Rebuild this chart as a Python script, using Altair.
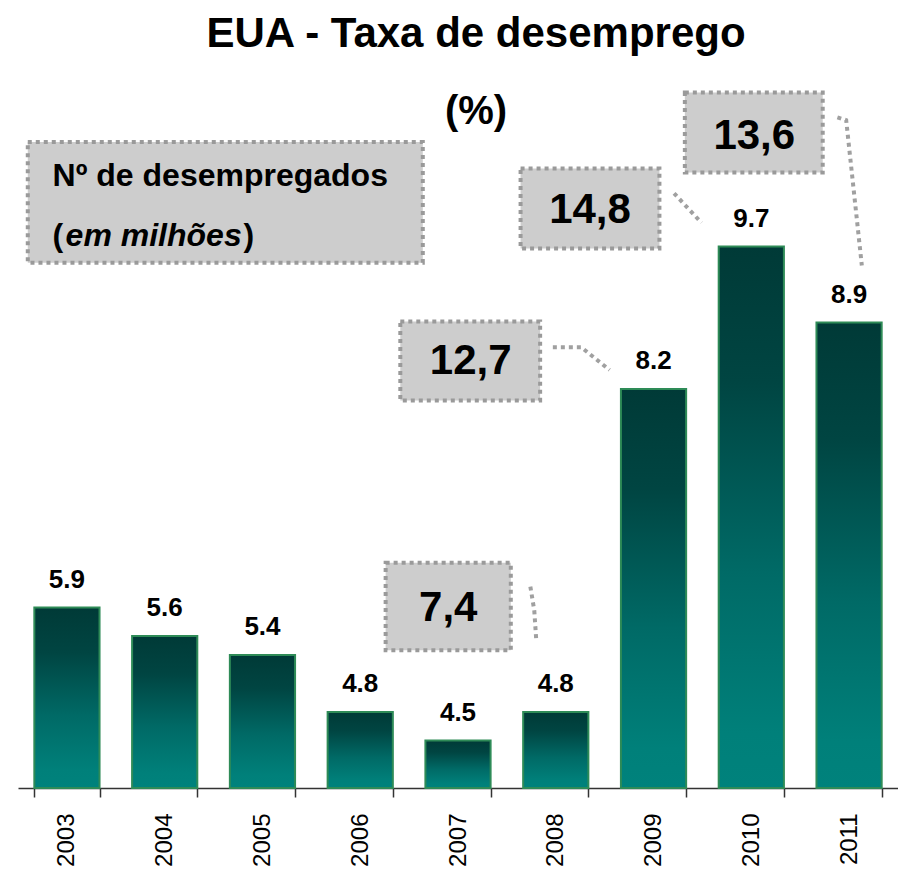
import altair as alt
import pandas as pd

# ---- data -------------------------------------------------------------
years = ["2003", "2004", "2005", "2006", "2007", "2008", "2009", "2010", "2011"]
rates = [5.9, 5.6, 5.4, 4.8, 4.5, 4.8, 8.2, 9.7, 8.9]

# unemployed people (millions) shown in the call-out boxes
callout_text = ["13,6", "14,8", "12,7", "7,4"]
callout_year = ["2011", "2010", "2009", "2008"]

# ---- annotation layout (x in year-band units 0..9, y in rate units) ----
box_x1 = [6.82, 5.14, 3.91, 3.76]
box_x2 = [8.23, 6.56, 5.34, 5.04]
box_y1 = [11.32, 10.52, 8.91, 6.37]
box_y2 = [10.48, 9.68, 8.08, 5.45]
txt_x = [7.53, 5.85, 4.63, 4.40]
txt_y = [10.86, 10.08, 8.49, 5.89]

leader_id = [0, 0, 0, 1, 1, 2, 2, 2, 3, 3, 3]
leader_x = [8.38, 8.47, 8.63, 6.71, 6.99, 5.47, 5.76, 6.05, 5.24, 5.28, 5.30]
leader_y = [11.06, 11.03, 9.50, 10.26, 9.95, 8.64, 8.64, 8.40, 6.12, 5.87, 5.56]

legend_box = dict(x1=0.10, x2=4.14, y1=10.80, y2=9.53)
legend_line1 = "Nº de desempregados"
legend_line2 = ["(", "em milhões", ")"]

FONT = "Liberation Sans"
Y_DOMAIN = [4, 10.8]

bars_df = pd.DataFrame({"year": years, "rate": rates})
boxes_df = pd.DataFrame({"x1": box_x1, "x2": box_x2, "y1": box_y1, "y2": box_y2,
                         "tx": txt_x, "ty": txt_y, "label": callout_text,
                         "year": callout_year})
legend_df = pd.DataFrame([legend_box])
leaders_df = pd.DataFrame({"id": leader_id, "x": leader_x, "y": leader_y})

yscale = alt.Scale(domain=Y_DOMAIN, nice=False, zero=False)
uscale = alt.Scale(domain=[0, 9], nice=False, zero=False)

gradient = alt.Gradient(
    gradient="linear", x1=0, x2=0, y1=0, y2=1,
    stops=[alt.GradientStop(color="#003a37", offset=0),
           alt.GradientStop(color="#004542", offset=0.25),
           alt.GradientStop(color="#006a66", offset=0.6),
           alt.GradientStop(color="#00807a", offset=0.9),
           alt.GradientStop(color="#00827c", offset=1)])

xband = alt.X("year:N", sort=years, title=None,
              scale=alt.Scale(paddingInner=0.333, paddingOuter=0.167),
              axis=alt.Axis(labelAngle=270, labelFont=FONT, labelFontSize=24,
                            labelColor="black", labelPadding=16,
                            labelAlign="right", labelBaseline="middle",
                            tickBand="extent", tickSize=9, tickColor="#333333",
                            tickWidth=1.5, domainColor="#333333", domainWidth=1.5))

bars = alt.Chart(bars_df).mark_bar(fill=gradient, stroke="#2e8b57", strokeWidth=2).encode(
    x=xband,
    y=alt.Y("rate:Q", scale=yscale, axis=None),
    y2=alt.datum(4),
)

bar_labels = alt.Chart(bars_df).mark_text(
    font=FONT, fontSize=26, fontWeight="bold", color="black",
    baseline="alphabetic", dy=-20).encode(
    x=alt.X("year:N", sort=years),
    y=alt.Y("rate:Q", scale=yscale, axis=None),
    text=alt.Text("rate:Q", format=".1f"),
)

bar_layer = alt.layer(bars, bar_labels)

leaders = alt.Chart(leaders_df).mark_line(
    stroke="#a0a0a0", strokeWidth=4, strokeDash=[4, 4], strokeCap="butt").encode(
    x=alt.X("x:Q", scale=uscale, axis=None),
    y=alt.Y("y:Q", scale=yscale, axis=None),
    detail="id:N",
)

rect_style = dict(fill="#cdcdcd", stroke="#9a9a9a", strokeWidth=4, strokeDash=[4, 4])

boxes = alt.Chart(boxes_df).mark_rect(**rect_style).encode(
    x=alt.X("x1:Q", scale=uscale, axis=None),
    x2="x2:Q",
    y=alt.Y("y1:Q", scale=yscale, axis=None),
    y2="y2:Q",
)

legend_rect = alt.Chart(legend_df).mark_rect(**rect_style).encode(
    x=alt.X("x1:Q", scale=uscale, axis=None),
    x2="x2:Q",
    y=alt.Y("y1:Q", scale=yscale, axis=None),
    y2="y2:Q",
)

box_text = alt.Chart(boxes_df).mark_text(
    font=FONT, fontSize=42, fontWeight="bold", color="black",
    baseline="middle", align="center").encode(
    x=alt.X("tx:Q", scale=uscale, axis=None),
    y=alt.Y("ty:Q", scale=yscale, axis=None),
    text="label:N",
)

leg_df = pd.DataFrame({"x": [0.354], "y1": [10.44], "y2": [9.81],
                       "l1": [legend_line1], "p1": [legend_line2[0]],
                       "p2": [legend_line2[1]], "p3": [legend_line2[2]]})
leg_base = alt.Chart(leg_df)
txt_style = dict(font=FONT, fontSize=32, fontWeight="bold", color="black",
                 align="left", baseline="middle")
leg1 = leg_base.mark_text(**txt_style).encode(
    x=alt.X("x:Q", scale=uscale, axis=None),
    y=alt.Y("y1:Q", scale=yscale, axis=None), text="l1:N")
leg2a = leg_base.mark_text(**txt_style).encode(
    x=alt.X("x:Q", scale=uscale, axis=None),
    y=alt.Y("y2:Q", scale=yscale, axis=None), text="p1:N")
leg2b = leg_base.mark_text(fontStyle="italic", dx=13, **txt_style).encode(
    x=alt.X("x:Q", scale=uscale, axis=None),
    y=alt.Y("y2:Q", scale=yscale, axis=None), text="p2:N")
leg2c = leg_base.mark_text(dx=191, **txt_style).encode(
    x=alt.X("x:Q", scale=uscale, axis=None),
    y=alt.Y("y2:Q", scale=yscale, axis=None), text="p3:N")

annot_layer = alt.layer(leaders, legend_rect, boxes, box_text, leg1, leg2a, leg2b, leg2c)

chart = alt.layer(bar_layer, annot_layer).resolve_scale(x="independent").properties(
    width=880, height=646,
    autosize=alt.AutoSizeParams(type="none"),
    padding={"left": 10, "top": 134, "right": 0, "bottom": 80},
    title=alt.Title(text="EUA - Taxa de desemprego", subtitle="(%)",
                    font=FONT, fontSize=42, fontWeight="bold", color="black",
                    subtitleFont=FONT, subtitleFontSize=40, subtitleFontWeight="bold",
                    subtitleColor="black", subtitlePadding=36, anchor="middle",
                    offset=19, dy=61, dx=18),
).configure_view(stroke=None)

chart.save("out.html", embed_options={"renderer": "svg", "actions": False})
